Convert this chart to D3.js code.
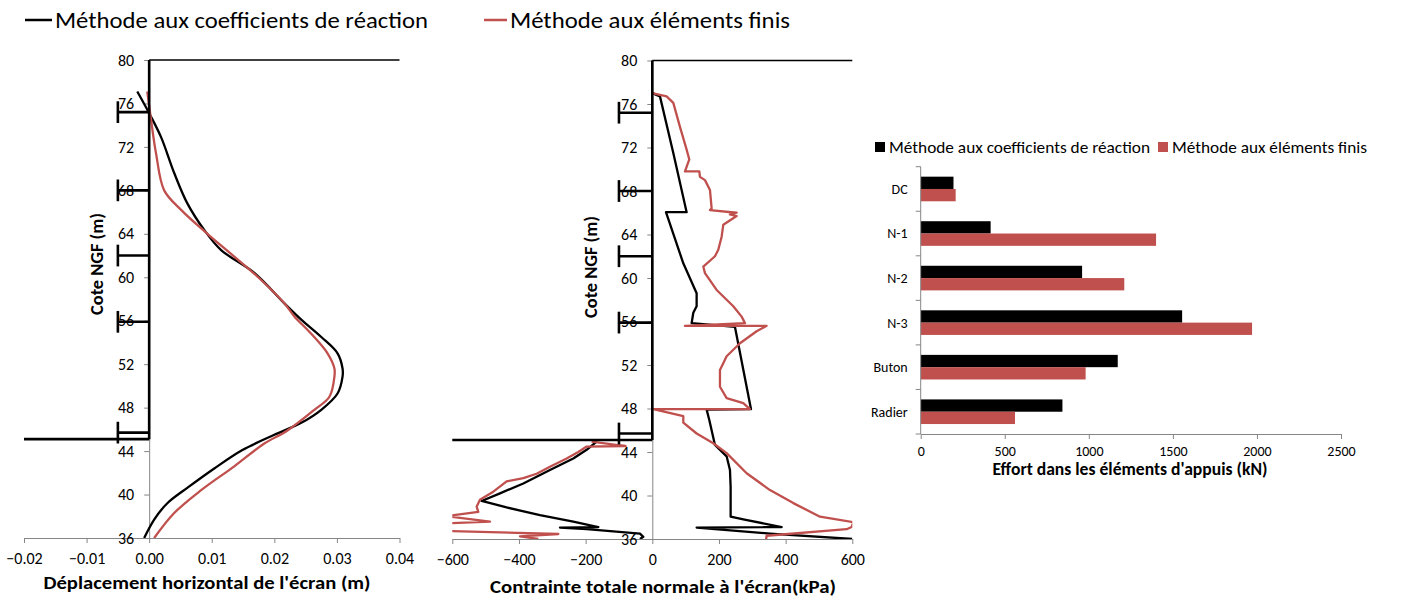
<!DOCTYPE html>
<html lang="fr">
<head>
<meta charset="UTF-8">
<title>Comparaison des méthodes</title>
<script src="https://d3js.org/d3.v7.min.js"></script>
<style>
    body { margin: 0; background: #fff; }
    svg text { font-family: Carlito, "Open Sans", "Noto Sans", sans-serif; fill: #000; }
    .axis path, .axis line { stroke: #868686; stroke-width: 1; }
</style>
</head>
<body>
<svg id="chart" width="1419" height="598"></svg>
<script>
// ---- données ----
const coteTicks = [36, 40, 44, 48, 52, 56, 60, 64, 68, 72, 76, 80];
const dispTicks = [-0.02, -0.01, 0, 0.01, 0.02, 0.03, 0.04];
const stressTicks = [-600, -400, -200, 0, 200, 400, 600];

// niveaux des appuis et fond de fouille (m NGF)
const strutLevels = [75.2, 68.0, 62.0, 55.9, 45.7];
const excavationLevel = 45.1;
const groundLevel = 80;

// déplacement horizontal [m, cote]
const dispCoef = [[-0.0019, 77.1], [0.0, 75.1], [0.0019, 72.9], [0.0040, 69.6], [0.0061, 66.8], [0.0088, 64.35],
    [0.0115, 62.5], [0.0168, 60.4], [0.0216, 57.6], [0.0243, 56.1], [0.0275, 54.5], [0.0301, 53.0], [0.0309, 51.6],
    [0.0309, 50.85], [0.0301, 49.3], [0.0275, 47.8], [0.0243, 46.6], [0.0200, 45.5], [0.0149, 44.1], [0.0104, 42.4],
    [0.0063, 40.7], [0.0029, 39.2], [0.0008, 37.7], [-0.0008, 36.0]];
const dispFem = [[-0.0003, 77.1], [0.0003, 74.5], [0.0011, 71.4], [0.0024, 68.0], [0.0051, 66.2], [0.0093, 64.0],
    [0.0136, 61.9], [0.0179, 59.75], [0.0216, 57.6], [0.0232, 56.4], [0.0259, 54.8], [0.0285, 53.0], [0.0296, 51.6],
    [0.0296, 50.85], [0.0288, 49.0], [0.0264, 47.8], [0.0221, 45.9], [0.0184, 44.7], [0.0136, 42.6], [0.0083, 40.4],
    [0.0040, 38.3], [0.0008, 36.0]];

// contrainte normale [kPa, cote]
const stressCoefActive = [[0, 77.0], [23, 76.7], [63, 71.5], [103, 66.05], [41, 66.05], [93, 61.35], [133, 58.6],
    [133, 57.4], [123, 56.8], [118, 55.85], [248, 55.5], [296, 47.95], [163, 47.9], [171, 46.95], [188, 44.65],
    [223, 43.6], [233, 42.35], [235, 40.8], [235, 38.05], [273, 37.8], [388, 37.1], [133, 37.05], [353, 36.5], [600, 36.0]];
const stressCoefPassive = [[-167, 44.95], [-197, 44.2], [-237, 43.4], [-307, 42.35], [-387, 41.1], [-457, 40.2],
    [-512, 39.5], [-437, 38.9], [-337, 38.2], [-237, 37.6], [-162, 37.1], [-277, 37.05], [-197, 36.9], [-37, 36.5],
    [-27, 36.2], [-37, 36.0]];
const stressFemActive = [[0, 77.0], [43, 76.7], [63, 76.1], [83, 73.9], [103, 71.8], [111, 70.9], [98, 69.8],
    [141, 69.8], [143, 69.3], [158, 69.0], [173, 68.1], [178, 66.4], [173, 66.25], [253, 66.0], [233, 65.85], [253, 65.7],
    [213, 64.9], [208, 63.8], [198, 62.6], [188, 62.0], [153, 61.05], [158, 60.45], [193, 58.9], [243, 57.4],
    [268, 56.45], [278, 55.85], [98, 55.6], [343, 55.6], [313, 55.1], [263, 54.0], [223, 52.8], [203, 51.55],
    [203, 50.0], [223, 48.95], [273, 48.5], [293, 47.95], [3, 47.95], [93, 47.3], [93, 46.7], [133, 45.7],
    [183, 44.8], [223, 43.9], [283, 42.05], [353, 40.5], [423, 39.3], [503, 38.05], [603, 37.55], [598, 37.1],
    [583, 36.9], [343, 36.3], [341, 35.9]];
const stressFemPassive = [[-182, 44.95], [-80, 44.55], [-197, 44.5], [-222, 44.0], [-257, 43.4], [-307, 42.65],
    [-347, 42.0], [-387, 41.6], [-437, 41.3], [-477, 40.35], [-517, 39.6], [-527, 38.97], [-522, 38.5], [-620, 38.1],
    [-487, 37.6], [-640, 37.4], [-640, 36.75], [-282, 36.46], [-397, 36.25], [-342, 36.0]];

// efforts dans les appuis (kN)
const supports = ['DC', 'N-1', 'N-2', 'N-3', 'Buton', 'Radier'];
const effortCoef = [195, 416, 960, 1555, 1172, 843];
const effortFem = [208, 1400, 1211, 1971, 981, 561];
const effortTicks = [0, 500, 1000, 1500, 2000, 2500];

const seriesNames = ['Méthode aux coefficients de réaction', 'Méthode aux éléments finis'];
const colorCoef = '#000000';
const colorFem = '#C0504D';

const svg = d3.select('#chart');

function styleAxis(sel, size) {
    sel.attr('class', 'axis');
    sel.selectAll('text').attr('fill', '#000').style('font-size', (size || 16) + 'px');
}

function drawProfile(p) {
    const x = d3.scaleLinear().domain(p.xDomain).range(p.xRange);
    const y = d3.scaleLinear().domain([36, 80]).range(p.yRange);
    const g = svg.append('g');

    g.append('clipPath').attr('id', p.id)
        .append('rect')
        .attr('x', p.xRange[0]).attr('y', p.yRange[1])
        .attr('width', p.xRange[1] - p.xRange[0])
        .attr('height', p.yRange[0] - p.yRange[1]);

    g.append('g')
        .attr('transform', `translate(0,${y(36)})`)
        .call(d3.axisBottom(x).tickValues(p.xTicks).tickFormat(p.xFormat).tickSize(5).tickSizeOuter(0).tickPadding(10))
        .call(styleAxis, 16);

    g.append('g')
        .attr('transform', `translate(${x(0)},0)`)
        .call(d3.axisLeft(y).tickValues(coteTicks).tickSize(5).tickSizeOuter(0).tickPadding(10))
        .call(styleAxis, 16);

    // courbes
    const line = d3.line().x(d => x(d[0])).y(d => y(d[1])).curve(p.curve);
    const curves = g.append('g').attr('clip-path', `url(#${p.id})`);
    p.series.forEach(s => {
        curves.append('path')
            .attr('d', line(s.data))
            .attr('fill', 'none')
            .attr('stroke', s.color)
            .attr('stroke-width', 2.3)
            .attr('stroke-linejoin', 'round');
    });

    // schéma de l'écran
    const wall = g.append('g').attr('stroke', '#000').attr('fill', 'none');
    wall.append('line')
        .attr('x1', x(0)).attr('x2', x(p.xDomain[1]))
        .attr('y1', y(groundLevel)).attr('y2', y(groundLevel))
        .attr('stroke-width', 1.6);
    wall.append('line')
        .attr('x1', x(0)).attr('x2', x(0))
        .attr('y1', y(groundLevel)).attr('y2', y(excavationLevel))
        .attr('stroke-width', 2.6);
    wall.append('line')
        .attr('x1', x(p.xDomain[0])).attr('x2', x(0))
        .attr('y1', y(excavationLevel)).attr('y2', y(excavationLevel))
        .attr('stroke-width', 2.6);
    strutLevels.forEach(lv => {
        wall.append('line')
            .attr('x1', x(0)).attr('x2', x(p.strutEnd))
            .attr('y1', y(lv)).attr('y2', y(lv))
            .attr('stroke-width', 2.6);
        wall.append('line')
            .attr('x1', x(p.strutEnd)).attr('x2', x(p.strutEnd))
            .attr('y1', y(lv + 1)).attr('y2', y(lv - 1))
            .attr('stroke-width', 2.6);
    });

    g.append('text')
        .attr('x', p.xTitle[0]).attr('y', p.xTitle[1])
        .attr('text-anchor', 'middle')
        .attr('font-size', 17).attr('font-weight', 'bold')
        .attr('textLength', p.xTitle[2]).attr('lengthAdjust', 'spacingAndGlyphs')
        .text(p.xLabel);

    g.append('text')
        .attr('transform', `translate(${p.yTitle[0]},${p.yTitle[1]}) rotate(-90)`)
        .attr('text-anchor', 'middle')
        .attr('font-size', 17).attr('font-weight', 'bold')
        .attr('textLength', 102).attr('lengthAdjust', 'spacingAndGlyphs')
        .text('Cote NGF (m)');
}

drawProfile({
    id: 'clip-disp',
    xDomain: [-0.02, 0.04], xRange: [24, 399.5],
    yRange: [538, 60],
    xTicks: dispTicks, xFormat: d3.format('.2f'),
    curve: d3.curveCatmullRom,
    strutEnd: -0.005,
    series: [{data: dispCoef, color: colorCoef}, {data: dispFem, color: colorFem}],
    xLabel: "Déplacement horizontal de l'écran (m)", xTitle: [207, 589, 327],
    yTitle: [103, 264]
});

drawProfile({
    id: 'clip-stress',
    xDomain: [-600, 600], xRange: [452.3, 852.3],
    yRange: [539, 60.5],
    xTicks: stressTicks, xFormat: d3.format('d'),
    curve: d3.curveLinear,
    strutEnd: -100,
    series: [
        {data: stressCoefActive, color: colorCoef}, {data: stressCoefPassive, color: colorCoef},
        {data: stressFemActive, color: colorFem}, {data: stressFemPassive, color: colorFem}
    ],
    xLabel: "Contrainte totale normale à l'écran(kPa)", xTitle: [663, 593, 346],
    yTitle: [597, 267]
});

// légende commune des deux profils
const topLegend = svg.append('g');
[[25, 55, 373, colorCoef], [484, 510, 280, colorFem]].forEach((l, i) => {
    topLegend.append('line')
        .attr('x1', l[0]).attr('x2', l[1] - 3).attr('y1', 20).attr('y2', 20)
        .attr('stroke', l[3]).attr('stroke-width', 2.5);
    topLegend.append('text')
        .attr('x', l[1]).attr('y', 28)
        .attr('font-size', 23)
        .attr('textLength', l[2]).attr('lengthAdjust', 'spacingAndGlyphs')
        .text(seriesNames[i]);
});

// ---- diagramme en barres ----
const bx = d3.scaleLinear().domain([0, 2500]).range([920.7, 1341]);
const by = d3.scaleBand().domain(supports).range([166.7, 434]);
const bySeries = d3.scaleBand().domain(['coef', 'fem']).range([0, by.bandwidth()]).paddingOuter(0.81);

const bars = svg.append('g');
supports.forEach((s, i) => {
    bars.append('rect')
        .attr('x', bx(0)).attr('y', by(s) + bySeries('coef'))
        .attr('width', bx(effortCoef[i]) - bx(0)).attr('height', bySeries.bandwidth())
        .attr('fill', colorCoef);
    bars.append('rect')
        .attr('x', bx(0)).attr('y', by(s) + bySeries('fem'))
        .attr('width', bx(effortFem[i]) - bx(0)).attr('height', bySeries.bandwidth())
        .attr('fill', colorFem);
});

svg.append('g')
    .attr('transform', `translate(0,${by.range()[1]})`)
    .call(d3.axisBottom(bx).tickValues(effortTicks).tickFormat(d3.format('d')).tickSize(5).tickSizeOuter(0).tickPadding(7))
    .call(styleAxis, 14);

const yAxisBars = svg.append('g').attr('class', 'axis').attr('transform', `translate(${bx(0)},0)`);
yAxisBars.append('line').attr('y1', by.range()[0]).attr('y2', by.range()[1]);
supports.concat(['end']).forEach((s, i) => {
    const yy = by.range()[0] + i * by.step();
    yAxisBars.append('line').attr('x1', -5).attr('x2', 0).attr('y1', yy).attr('y2', yy);
});
supports.forEach(s => {
    yAxisBars.append('text')
        .attr('x', -13).attr('y', by(s) + by.bandwidth() / 2)
        .attr('dy', '0.35em').attr('text-anchor', 'end')
        .style('font-size', '14px')
        .text(s);
});

svg.append('text')
    .attr('x', 1130).attr('y', 475)
    .attr('text-anchor', 'middle')
    .attr('font-size', 17).attr('font-weight', 'bold')
    .attr('textLength', 275).attr('lengthAdjust', 'spacingAndGlyphs')
    .text("Effort dans les  éléments d'appuis (kN)");

const barLegend = svg.append('g');
[[875, 889, 261, colorCoef], [1158, 1172, 195, colorFem]].forEach((l, i) => {
    barLegend.append('rect')
        .attr('x', l[0]).attr('y', 142).attr('width', 10).attr('height', 10)
        .attr('fill', l[3]);
    barLegend.append('text')
        .attr('x', l[1]).attr('y', 152.5)
        .attr('font-size', 16)
        .attr('textLength', l[2]).attr('lengthAdjust', 'spacingAndGlyphs')
        .text(seriesNames[i]);
});
</script>
</body>
</html>
